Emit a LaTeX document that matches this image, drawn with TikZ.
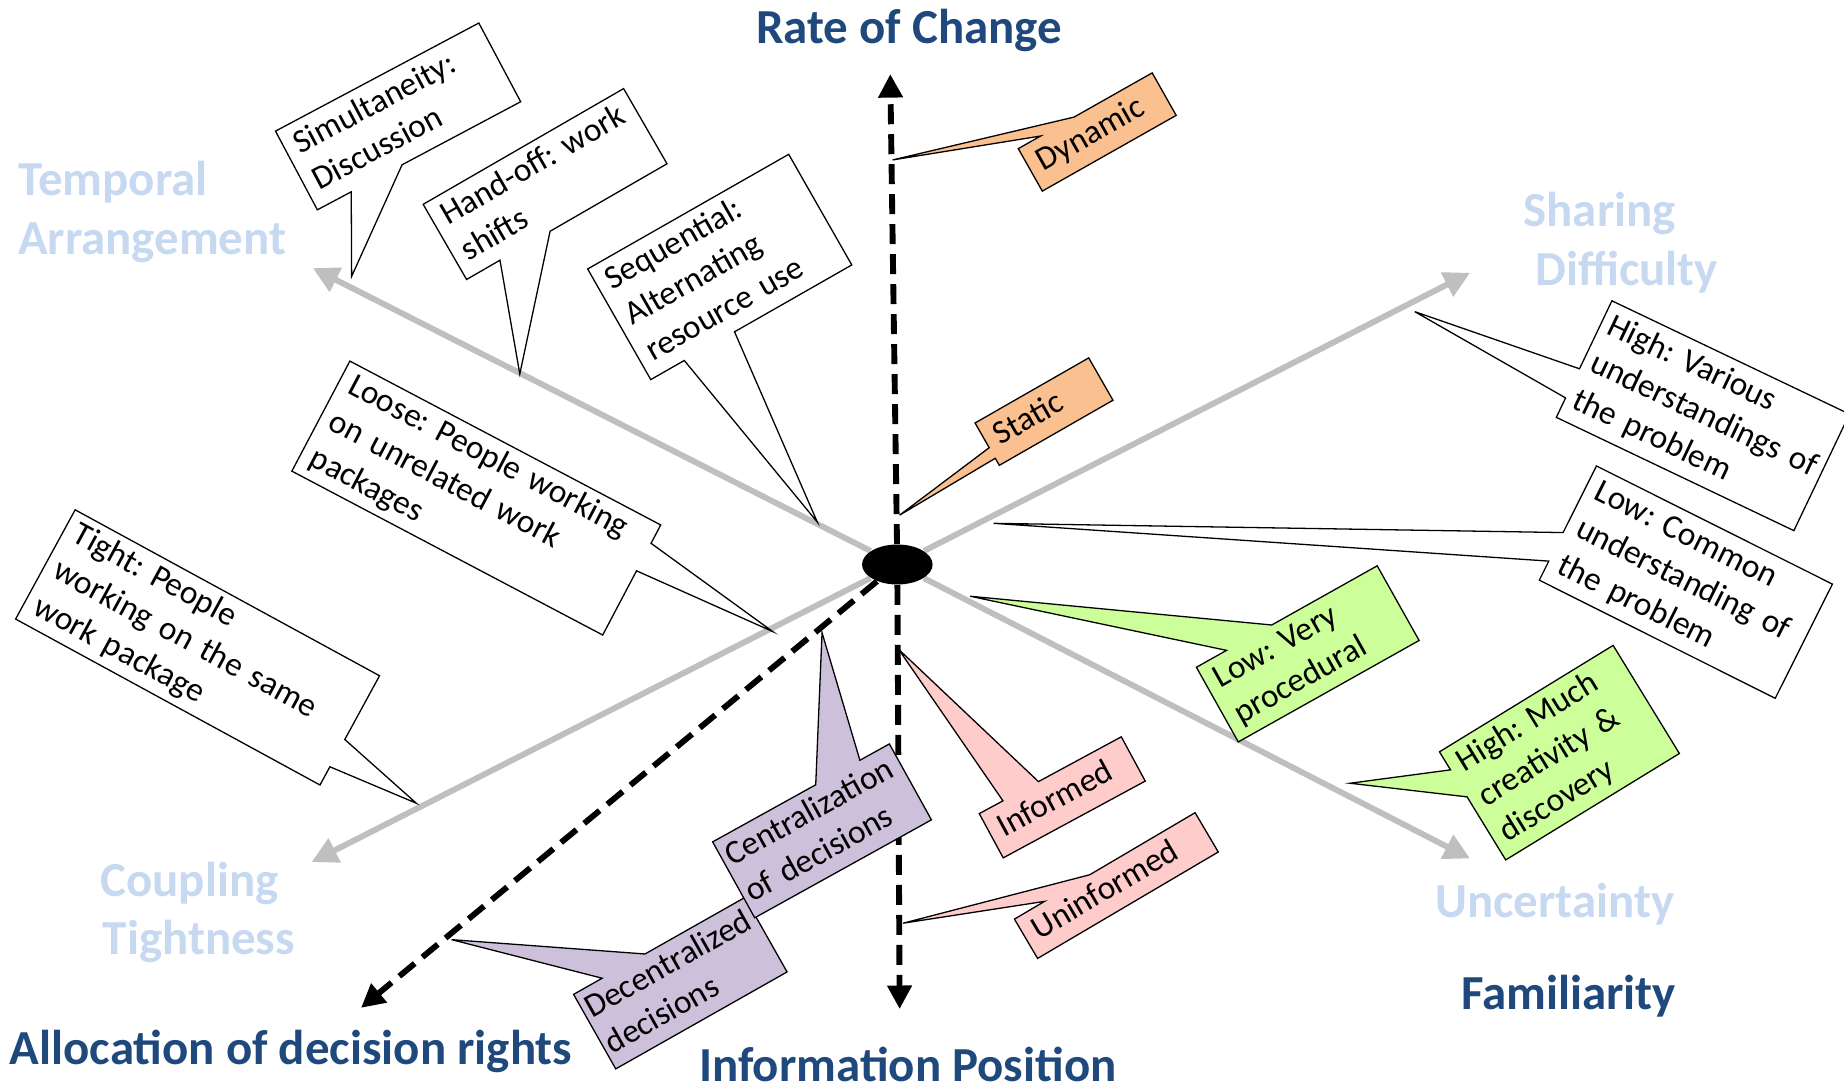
\documentclass[tikz,border=0pt]{standalone}
\usepackage{fontspec}
\setmainfont{Carlito}
\frenchspacing
\usetikzlibrary{calc,shapes.geometric,arrows.meta}
\definecolor{dblue}{RGB}{31,73,125}
\definecolor{lblue}{RGB}{198,217,241}
\definecolor{axgray}{RGB}{191,191,191}
\definecolor{corange}{RGB}{250,192,144}
\definecolor{cpink}{RGB}{255,204,204}
\definecolor{cgreen}{RGB}{204,255,153}
\definecolor{cpurple}{RGB}{204,192,218}
\pgfdeclarelayer{axes}
\pgfdeclarelayer{shapes}
\pgfsetlayers{axes,shapes,main}
\newcommand\cl[1]{\mbox{\strut #1}}
% callout outlines: node, tip, fraction a, fraction b, fill
\newcommand\cotop[5]{\begin{pgfonlayer}{shapes}\filldraw[cobox,fill=#5] (#1.north west) -- ($(#1.north west)!#3!(#1.north east)$) -- (#2) -- ($(#1.north west)!#4!(#1.north east)$) -- (#1.north east) -- (#1.south east) -- (#1.south west) -- cycle;\end{pgfonlayer}}
\newcommand\cobot[5]{\begin{pgfonlayer}{shapes}\filldraw[cobox,fill=#5] (#1.north west) -- (#1.north east) -- (#1.south east) -- ($(#1.south west)!#4!(#1.south east)$) -- (#2) -- ($(#1.south west)!#3!(#1.south east)$) -- (#1.south west) -- cycle;\end{pgfonlayer}}
\newcommand\coleft[5]{\begin{pgfonlayer}{shapes}\filldraw[cobox,fill=#5] (#1.north west) -- (#1.north east) -- (#1.south east) -- (#1.south west) -- ($(#1.north west)!#4!(#1.south west)$) -- (#2) -- ($(#1.north west)!#3!(#1.south west)$) -- cycle;\end{pgfonlayer}}
\newcommand\coright[5]{\begin{pgfonlayer}{shapes}\filldraw[cobox,fill=#5] (#1.north west) -- (#1.north east) -- ($(#1.north east)!#3!(#1.south east)$) -- (#2) -- ($(#1.north east)!#4!(#1.south east)$) -- (#1.south east) -- (#1.south west) -- cycle;\end{pgfonlayer}}
\tikzset{
  cot/.style={font=\fontsize{14.2}{17.5}\selectfont, align=left, inner xsep=4.5pt, inner ysep=0pt, text=black},
  cobox/.style={draw=black, line width=0.55pt, line join=miter},
  axlab/.style={font=\fontsize{20.8}{25}\selectfont\bfseries, text=dblue, inner sep=0pt},
  lightlab/.style={font=\fontsize{20.8}{25}\selectfont\bfseries, text=lblue, inner sep=0pt, anchor=base west},
  grayax/.style={draw=axgray, line width=2.5pt, -{Triangle[length=11pt,width=11pt]}},
  dashax/.style={draw=black, line width=2.5pt, dash pattern=on 8.5pt off 4.25pt, -{Triangle[length=10pt,width=10pt]}},
  hub/.style={ellipse, fill=black, minimum width=30pt, minimum height=17pt, inner sep=0pt}
}
\begin{document}
\begin{tikzpicture}[x=0.5pt,y=-0.5pt]
\useasboundingbox (0,0) rectangle (1568,926);
% centre
\node[hub] (c) at (763,480) {};
% axis end points
\coordinate (tT) at (266,228);
\coordinate (tU) at (1250,730);
\coordinate (tS) at (1250,232);
\coordinate (tC) at (265,733);
\coordinate (tRC) at (757,63);
\coordinate (tIP) at (765,858);
\coordinate (tAD) at (307,857);
\begin{pgfonlayer}{axes}
\draw[grayax] (c) -- (tT);
\draw[grayax] (c) -- (tU);
\draw[grayax] (c) -- (tS);
\draw[grayax] (c) -- (tC);
\draw[dashax] (c) -- (tRC);
\draw[dashax] (c) -- (tIP);
\draw[dashax] (c) -- (tAD);
\end{pgfonlayer}
% axis titles
\node[axlab, anchor=base] (lRC) at (773,37) {Rate of Change};
\node[axlab, anchor=base] (lIP) at (772,920) {Information Position};
\node[axlab, anchor=base west] (lAD) at (8,905) {Allocation of decision rights};
\node[axlab, anchor=base west] (lFA) at (1242,858) {Familiarity};
\node[lightlab] (lT1) at (15,166) {Temporal};
\node[lightlab] (lT2) at (15,216) {Arrangement};
\node[lightlab] (lS1) at (1295,193) {Sharing};
\node[lightlab] (lS2) at (1305,243) {Difficulty};
\node[lightlab] (lC1) at (85,762) {Coupling};
\node[lightlab] (lC2) at (87,812) {Tightness};
\node[lightlab] (lU) at (1220,780) {Uncertainty};
% pointer tips
\coordinate (simT) at (299,235);
\coordinate (handT) at (442,318);
\coordinate (seqT) at (695,444);
\coordinate (looseT) at (657,537);
\coordinate (tightT) at (354,683);
\coordinate (dynT) at (759,136);
\coordinate (statT) at (765,438);
\coordinate (infT) at (764,552);
\coordinate (uninfT) at (768,785);
\coordinate (centT) at (699,538);
\coordinate (decT) at (384,799);
\coordinate (hvT) at (1203,265);
\coordinate (lcT) at (845,445);
\coordinate (lvT) at (825,507);
\coordinate (hmT) at (1148,666);
% callout texts
\node[cot, rotate=28, minimum width=97.5pt, minimum height=37.5pt, text width=88.5pt] (sim) at (338.5,99) {\cl{Simultaneity:}\\\cl{Discussion}};
\node[cot, rotate=30, minimum width=98pt, minimum height=36.5pt, text width=89pt] (hand) at (463.5,156.5) {\cl{Hand-off: work}\\\cl{shifts}};
\node[cot, rotate=29.7, minimum width=98pt, minimum height=53.75pt, text width=89pt] (seq) at (612,227) {\cl{Sequential:}\\\cl{Alternating}\\\cl{resource use}};
\node[cot, rotate=-27.8, minimum width=149pt, minimum height=51pt, text width=140pt] (loose) at (405,423.5) {\cl{Loose: People working}\\\cl{on unrelated work}\\\cl{packages}};
\node[cot, rotate=-28.6, minimum width=147pt, minimum height=52.5pt, text width=138pt] (tight) at (168,550.5) {\cl{Tight: People}\\\cl{working on the same}\\\cl{work package}};
\node[cot, rotate=29.5, minimum width=65pt, minimum height=20.35pt, text width=56pt] (dyn) at (933,112.25) {\cl{Dynamic}};
\node[cot, rotate=29.8, minimum width=55.3pt, minimum height=20.35pt, text width=46.3pt] (stat) at (887.75,350) {\cl{Static}};
\node[cot, rotate=28.4, minimum width=68.25pt, minimum height=21pt, text width=59.25pt] (inf) at (903.25,678) {\cl{Informed}};
\node[cot, rotate=30.5, minimum width=88.75pt, minimum height=19pt, text width=79.75pt] (uninf) at (949.25,753) {\cl{Uninformed}};
\node[cot, rotate=29, minimum width=85.5pt, minimum height=36.5pt, text width=81.5pt, inner xsep=2pt] (cent) at (699,706.5) {\cl{Centralization}\\\cl{of decisions}};
\node[cot, rotate=29.5, minimum width=83.3pt, minimum height=36pt, text width=79.8pt, inner xsep=1.75pt] (dec) at (578.5,836) {\cl{Decentralized}\\\cl{decisions}};
\node[cot, rotate=-25.5, minimum width=111.5pt, minimum height=54.5pt, text width=104.7pt, inner xsep=3.4pt] (hv) at (1448,353.5) {\cl{High: Various}\\\cl{understandings of}\\\cl{the problem}};
\node[cot, rotate=-26.6, minimum width=111.8pt, minimum height=53.9pt, text width=102.8pt] (lc) at (1433.5,495) {\cl{Low: Common}\\\cl{understanding of}\\\cl{the problem}};
\node[cot, rotate=29.3, minimum width=87.75pt, minimum height=36pt, text width=78.75pt] (lv) at (1112,556) {\cl{Low: Very}\\\cl{procedural}};
\node[cot, rotate=31.5, minimum width=86.2pt, minimum height=53.5pt, text width=77.2pt] (hm) at (1326,640) {\cl{High: Much}\\\cl{creativity \&}\\\cl{discovery}};
% callout outlines with pointers
\cobot{sim}{simT}{0.1667}{0.4167}{white}
\cobot{hand}{handT}{0.1667}{0.4167}{white}
\cobot{seq}{seqT}{0.1667}{0.4167}{white}
\coright{loose}{looseT}{0.1667}{0.4167}{white}
\coright{tight}{tightT}{0.5833}{0.8333}{white}
\cotop{dyn}{dynT}{0.1667}{0.4167}{corange}
\coleft{stat}{statT}{0.5833}{0.8333}{corange}
\cotop{inf}{infT}{0.1667}{0.4167}{cpink}
\cotop{uninf}{uninfT}{0.1667}{0.4167}{cpink}
\cotop{dec}{decT}{0.1667}{0.4167}{cpurple}
\cotop{cent}{centT}{0.5833}{0.8333}{cpurple}
\coleft{hv}{hvT}{0.5833}{0.8333}{white}
\coleft{lc}{lcT}{0.5833}{0.8333}{white}
\cotop{lv}{lvT}{0.1667}{0.4167}{cgreen}
\coleft{hm}{hmT}{0.1667}{0.4167}{cgreen}
\end{tikzpicture}
\end{document}
